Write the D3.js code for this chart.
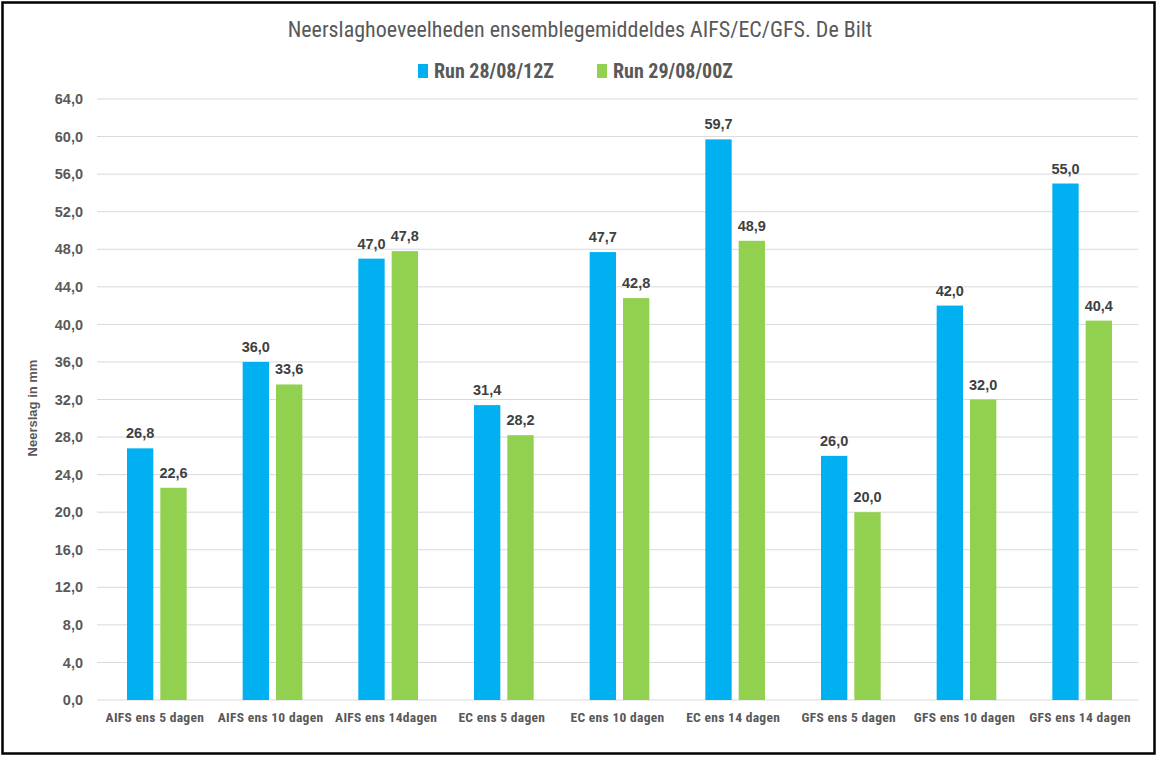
<!DOCTYPE html>
<html><head><meta charset="utf-8">
<script src="https://cdn.jsdelivr.net/npm/d3@7"></script>
<style>body{margin:0;background:#fff}svg{display:block}</style>
</head><body>
<svg id="c" width="1159" height="757"></svg>
<script>
const categories = ["AIFS ens 5 dagen","AIFS ens 10 dagen","AIFS ens 14dagen","EC ens 5 dagen","EC ens 10 dagen","EC ens 14 dagen","GFS ens 5 dagen","GFS ens 10 dagen","GFS ens 14 dagen"];
const seriesNames = ["Run 28/08/12Z","Run 29/08/00Z"];
const run1 = [26.8,36.0,47.0,31.4,47.7,59.7,26.0,42.0,55.0];
const run2 = [22.6,33.6,47.8,28.2,42.8,48.9,20.0,32.0,40.4];
const yTicks = [0,4,8,12,16,20,24,28,32,36,40,44,48,52,56,60,64];
const colors = ["#00b0f0","#92d050"];

const svg = d3.select("#c");
const L=97, R=1138, T=99, B=700;
const fmt = v => v.toFixed(1).replace(".", ",");
const narrow = "'Liberation Sans Narrow','Roboto Condensed','DejaVu Sans Condensed','Liberation Sans',sans-serif";
const arial = "'Liberation Sans',Arial,sans-serif";

svg.append("rect").attr("x",2.5).attr("y",2.5).attr("width",1152).attr("height",751)
  .attr("fill","#fff").attr("stroke","#000").attr("stroke-width",2.5);

const x = d3.scaleBand().domain(categories).range([L,R]).paddingInner(0).paddingOuter(0);
const x1 = d3.scaleBand().domain([0,1]).range([30,x.bandwidth()-26]).paddingInner(0.21);
const y = d3.scaleLinear().domain([0,64]).range([B,T]);

// grid
svg.append("g").selectAll("line").data(yTicks).join("line")
  .attr("x1",L).attr("x2",R).attr("y1",d=>y(d)).attr("y2",d=>y(d))
  .attr("stroke","#d9d9d9").attr("stroke-width",1);

// y axis labels
const ya = svg.append("g").attr("transform",`translate(${L},0)`)
  .call(d3.axisLeft(y).tickValues(yTicks).tickFormat(fmt).tickSize(0).tickPadding(14));
ya.select(".domain").remove();
ya.selectAll("text").attr("fill","#595959").attr("font-family",arial)
  .attr("font-weight","bold").attr("font-size","14.5px");

// x axis labels
const xa = svg.append("g").attr("transform",`translate(0,${B})`)
  .call(d3.axisBottom(x).tickSize(0).tickPadding(12));
xa.select(".domain").remove();
xa.selectAll("text").attr("fill","#595959").attr("font-family",narrow)
  .attr("font-weight","bold").attr("font-size","13.5px").attr("letter-spacing","0.3px");

// bars
const series=[run1,run2];
series.forEach((vals,si)=>{
  const g=svg.append("g");
  g.selectAll("rect").data(vals).join("rect")
    .attr("x",(d,i)=>x(categories[i])+x1(si)).attr("width",x1.bandwidth())
    .attr("y",d=>y(d)).attr("height",d=>B-y(d)).attr("fill",colors[si]);
  g.selectAll("text").data(vals).join("text")
    .attr("x",(d,i)=>x(categories[i])+x1(si)+x1.bandwidth()/2).attr("y",d=>y(d)-10)
    .attr("text-anchor","middle").attr("fill","#404040")
    .attr("font-family",arial).attr("font-weight","bold").attr("font-size","14.5px")
    .text(fmt);
});

// title
svg.append("text").attr("x",580).attr("y",37).attr("text-anchor","middle")
  .attr("fill","#595959").attr("font-family",narrow).attr("font-size","22px")
  .text("Neerslaghoeveelheden ensemblegemiddeldes AIFS/EC/GFS. De Bilt");

// legend
const leg=[{x:418},{x:597}];
seriesNames.forEach((n,i)=>{
  svg.append("rect").attr("x",leg[i].x).attr("y",64).attr("width",10).attr("height",14).attr("fill",colors[i]);
  svg.append("text").attr("x",leg[i].x+16).attr("y",78).attr("fill","#595959")
    .attr("font-family",narrow).attr("font-weight","bold").attr("font-size","20px").text(n);
});

// y title
svg.append("text").attr("transform",`translate(37,408) rotate(-90)`).attr("text-anchor","middle")
  .attr("fill","#595959").attr("font-family",arial).attr("font-weight","bold").attr("font-size","13px")
  .text("Neerslag in mm");
</script>
</body></html>
